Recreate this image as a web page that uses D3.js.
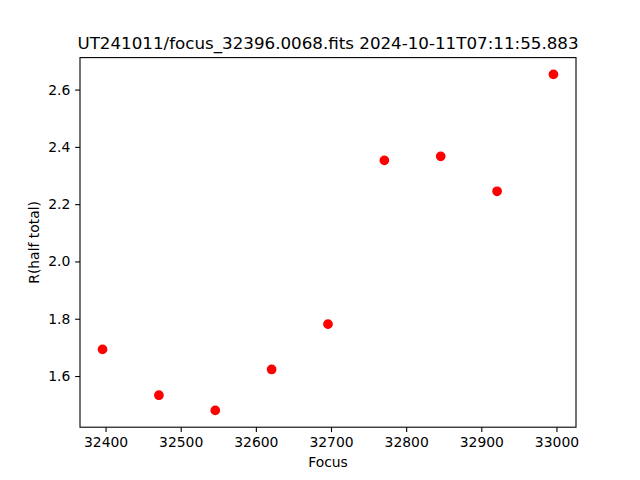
<!DOCTYPE html>
<html><head><meta charset="utf-8">
<script src="https://cdn.jsdelivr.net/npm/d3@7"></script>
<style>body{margin:0;background:#fff}svg{display:block}text{font-family:"DejaVu Sans",sans-serif;fill:#000}</style>
</head><body>
<svg id="c" width="640" height="480"></svg>
<script>
const focus = [32396, 32471, 32546, 32621, 32696, 32771, 32846, 32921, 32996];
const rHalf = [1.693, 1.533, 1.480, 1.623, 1.781, 2.353, 2.367, 2.245, 2.653];
const xTicks = [32400, 32500, 32600, 32700, 32800, 32900, 33000];
const yTicks = [1.6, 1.8, 2.0, 2.2, 2.4, 2.6];
const title = "UT241011/focus_32396.0068.fits 2024-10-11T07:11:55.883";

const W = 640, H = 480;
const L = 80, R = 576, T = 57.6, B = 427.2;
const svg = d3.select("#c");
svg.append("rect").attr("width", W).attr("height", H).attr("fill", "#fff");

function pad(ext){const r = ext[1]-ext[0]; return [ext[0]-0.05*r, ext[1]+0.05*r];}
const x = d3.scaleLinear().domain(pad(d3.extent(focus))).range([L, R]);
const y = d3.scaleLinear().domain(pad(d3.extent(rHalf))).range([B, T]);

const tickLen = 4.86;
const xAxis = d3.axisBottom(x).tickValues(xTicks).tickFormat(d3.format("d")).tickSizeInner(tickLen).tickSizeOuter(0).tickPadding(4.86);
const yAxis = d3.axisLeft(y).tickValues(yTicks).tickFormat(d3.format(".1f")).tickSizeInner(tickLen).tickSizeOuter(0).tickPadding(4.86);

const gx = svg.append("g").attr("transform", `translate(0,${B})`).call(xAxis);
const gy = svg.append("g").attr("transform", `translate(${L},0)`).call(yAxis);
[gx, gy].forEach(g => {
  g.select(".domain").remove();
  g.selectAll(".tick line").attr("stroke", "#000").attr("stroke-width", 1.1);
  g.selectAll(".tick text").attr("font-size", "13.9px").attr("fill", "#000");
});

// points
svg.append("g").selectAll("circle").data(focus).join("circle")
  .attr("cx", (d) => x(d)).attr("cy", (d, i) => y(rHalf[i]))
  .attr("r", 4.17).attr("fill", "#ff0000")
  .attr("stroke", "#ff0000").attr("stroke-width", 1.39);

// frame
svg.append("rect").attr("x", L).attr("y", T).attr("width", R - L).attr("height", B - T)
  .attr("fill", "none").attr("stroke", "#000").attr("stroke-width", 1.1);

svg.append("text").attr("x", (L + R) / 2).attr("y", T - 8.3).attr("text-anchor", "middle")
  .attr("font-size", "16.7px").text(title);
svg.append("text").attr("x", (L + R) / 2).attr("y", 467).attr("text-anchor", "middle")
  .attr("font-size", "13.9px").text("Focus");
svg.append("text").attr("transform", `translate(39,${(T + B) / 2}) rotate(-90)`).attr("text-anchor", "middle")
  .attr("font-size", "13.9px").text("R(half total)");
</script>
</body></html>
